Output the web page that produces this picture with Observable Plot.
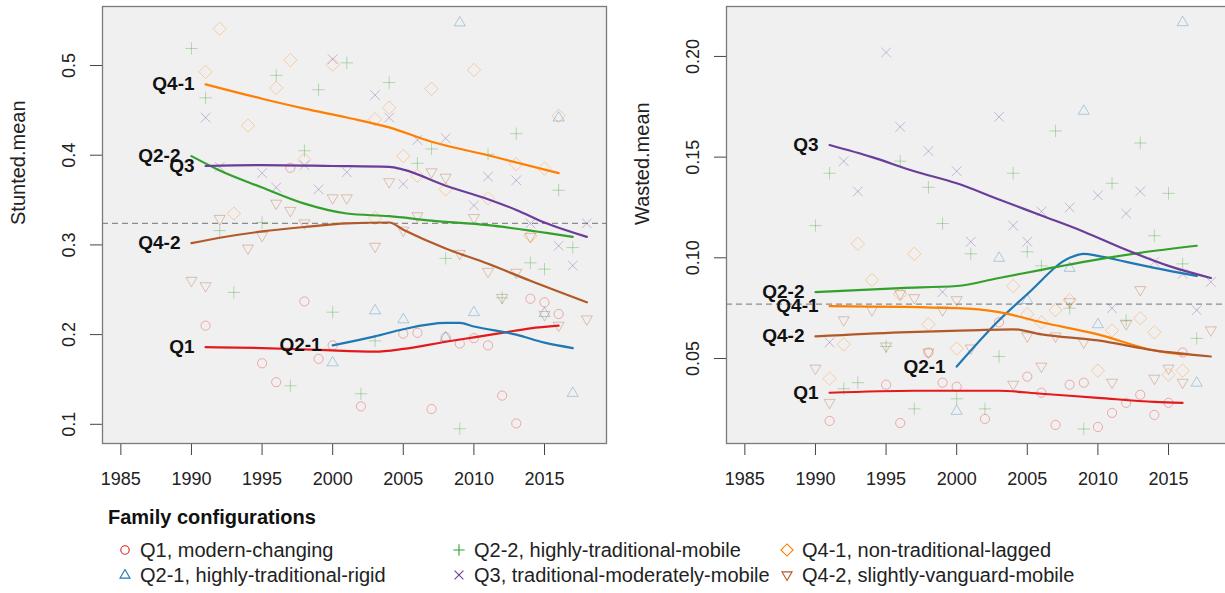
<!DOCTYPE html>
<html><head><meta charset="utf-8">
<script src="https://cdn.jsdelivr.net/npm/d3@7"></script>
<script src="https://cdn.jsdelivr.net/npm/@observablehq/plot@0.6"></script>
<style>
html,body{margin:0;padding:0;background:#fff;overflow:hidden;}
#root{position:relative;width:1225px;height:593px;overflow:hidden;font-family:"Liberation Sans",Arial,sans-serif;}
#root svg{max-width:none !important;}
#left{position:absolute;left:0;top:0;width:612px;}
#right{position:absolute;left:620px;top:0;width:620px;}
#legend{position:absolute;left:0;top:495px;width:1225px;}
</style></head>
<body><div id="root"><div id="left"></div><div id="right"></div><div id="legend"></div></div>
<script>
// ---------- categories ----------
const groups = ["Q1", "Q2-1", "Q2-2", "Q3", "Q4-1", "Q4-2"];
const groupColors = ["#e31a1c", "#1f78b4", "#33a02c", "#6a3d9a", "#ff7f00", "#b15928"];
const legendLabels = ["Q1, modern-changing", "Q2-1, highly-traditional-rigid", "Q2-2, highly-traditional-mobile",
  "Q3, traditional-moderately-mobile", "Q4-1, non-traditional-lagged", "Q4-2, slightly-vanguard-mobile"];
const legendTitle = "Family configurations";
const xTicks = [1985, 1990, 1995, 2000, 2005, 2010, 2015];
const stuntedTicks = [0.1, 0.2, 0.3, 0.4, 0.5];
const wastedTicks = [0.05, 0.10, 0.15, 0.20];
const stuntedMean = 0.324;
const wastedMean = 0.077;

// ---------- Stunted: observed points [year, value] ----------
const stuntedQ1 = [[1991,0.210],[1995,0.168],[1996,0.147],[1997,0.386],[1998,0.237],[1999,0.173],[2000,0.188],[2002,0.120],[2005,0.201],[2006,0.202],[2007,0.117],[2008,0.197],[2009,0.190],[2010,0.196],[2011,0.188],[2012,0.132],[2013,0.101],[2014,0.240],[2015,0.236],[2016,0.223]];
const stuntedQ21 = [[2000,0.169],[2003,0.227],[2005,0.217],[2008,0.197],[2009,0.548],[2010,0.225],[2015,0.224],[2016,0.442],[2017,0.135]];
const stuntedQ22 = [[1990,0.519],[1991,0.464],[1992,0.316],[1993,0.247],[1995,0.325],[1996,0.489],[1997,0.143],[1998,0.405],[1999,0.473],[2000,0.225],[2001,0.503],[2002,0.134],[2003,0.193],[2004,0.481],[2006,0.391],[2007,0.407],[2008,0.285],[2009,0.095],[2011,0.401],[2012,0.241],[2013,0.424],[2014,0.280],[2015,0.273],[2016,0.361],[2017,0.297]];
const stuntedQ3 = [[1991,0.442],[1992,0.387],[1995,0.380],[1996,0.364],[1998,0.389],[1999,0.362],[2000,0.507],[2001,0.381],[2003,0.467],[2004,0.442],[2005,0.368],[2006,0.417],[2008,0.419],[2010,0.344],[2011,0.376],[2013,0.372],[2014,0.324],[2016,0.299],[2017,0.277],[2018,0.324]];
const stuntedQ41 = [[1991,0.493],[1992,0.541],[1993,0.335],[1994,0.433],[1996,0.475],[1997,0.506],[1998,0.395],[2000,0.501],[2003,0.440],[2003,0.330],[2004,0.453],[2005,0.399],[2006,0.377],[2007,0.474],[2008,0.362],[2010,0.495],[2011,0.352],[2013,0.390],[2014,0.310],[2015,0.385],[2016,0.444]];
const stuntedQ42 = [[1990,0.260],[1991,0.254],[1992,0.329],[1994,0.296],[1995,0.310],[1996,0.346],[1997,0.338],[1998,0.324],[2000,0.352],[2001,0.352],[2003,0.298],[2004,0.370],[2005,0.316],[2006,0.332],[2007,0.381],[2008,0.375],[2009,0.290],[2010,0.330],[2011,0.270],[2012,0.241],[2013,0.269],[2014,0.309],[2015,0.222],[2016,0.210],[2018,0.217]];

// ---------- Stunted: smoothed trends ----------
const stuntedFitQ1 = [[1991,0.186],[1995,0.185],[1999,0.183],[2003,0.181],[2005,0.184],[2008,0.192],[2010,0.197],[2012,0.202],[2014,0.207],[2016,0.210]];
const stuntedFitQ21 = [[2000,0.188],[2003,0.198],[2005,0.206],[2008,0.213],[2009,0.213],[2010,0.209],[2013,0.200],[2015,0.191],[2017,0.185]];
const stuntedFitQ22 = [[1990,0.399],[1992,0.383],[1995,0.364],[1998,0.346],[2001,0.335],[2004,0.332],[2007,0.327],[2011,0.322],[2014,0.316],[2017,0.309]];
const stuntedFitQ3 = [[1991,0.388],[1995,0.389],[2000,0.388],[2004,0.387],[2005,0.384],[2008,0.366],[2011,0.351],[2013,0.339],[2015,0.325],[2018,0.309]];
const stuntedFitQ41 = [[1991,0.479],[1995,0.463],[1998,0.452],[2001,0.442],[2004,0.431],[2007,0.415],[2011,0.400],[2016,0.380]];
const stuntedFitQ42 = [[1990,0.302],[1992,0.308],[1995,0.315],[1998,0.320],[2001,0.324],[2004,0.325],[2005,0.317],[2008,0.296],[2011,0.279],[2014,0.260],[2018,0.236]];

// ---------- Wasted: observed points ----------
const wastedQ1 = [[1991,0.019],[1995,0.037],[1996,0.018],[1998,0.053],[1999,0.038],[2000,0.036],[2002,0.020],[2003,0.068],[2005,0.041],[2006,0.033],[2007,0.017],[2008,0.037],[2009,0.038],[2010,0.016],[2011,0.023],[2012,0.028],[2013,0.032],[2014,0.022],[2015,0.028],[2016,0.053]];
const wastedQ21 = [[2000,0.024],[2003,0.100],[2005,0.079],[2008,0.095],[2009,0.173],[2010,0.067],[2016,0.217],[2017,0.038]];
const wastedQ22 = [[1990,0.116],[1991,0.142],[1992,0.035],[1993,0.038],[1995,0.056],[1996,0.148],[1997,0.025],[1998,0.135],[1999,0.117],[2000,0.030],[2001,0.102],[2002,0.025],[2003,0.051],[2004,0.142],[2005,0.103],[2006,0.096],[2007,0.163],[2008,0.075],[2009,0.015],[2011,0.137],[2012,0.069],[2013,0.157],[2014,0.111],[2015,0.132],[2016,0.097],[2017,0.060]];
const wastedQ3 = [[1991,0.058],[1992,0.148],[1993,0.133],[1995,0.202],[1996,0.165],[1998,0.153],[1999,0.083],[2000,0.143],[2001,0.108],[2003,0.170],[2004,0.116],[2005,0.108],[2006,0.123],[2008,0.125],[2010,0.131],[2011,0.075],[2012,0.122],[2013,0.133],[2014,0.098],[2016,0.092],[2017,0.074],[2018,0.088]];
const wastedQ41 = [[1991,0.040],[1992,0.057],[1993,0.107],[1994,0.089],[1996,0.082],[1997,0.102],[1998,0.067],[2000,0.055],[2004,0.086],[2005,0.072],[2006,0.068],[2007,0.074],[2008,0.079],[2010,0.044],[2011,0.064],[2013,0.070],[2014,0.063],[2015,0.042],[2016,0.044]];
const wastedQ42 = [[1990,0.045],[1991,0.028],[1992,0.069],[1994,0.074],[1995,0.056],[1996,0.082],[1997,0.080],[1998,0.053],[1999,0.074],[2000,0.079],[2001,0.055],[2004,0.037],[2005,0.061],[2006,0.046],[2007,0.061],[2008,0.078],[2009,0.058],[2011,0.038],[2012,0.067],[2013,0.084],[2014,0.040],[2015,0.045],[2016,0.038],[2018,0.064]];

// ---------- Wasted: smoothed trends ----------
const wastedFitQ1 = [[1991,0.033],[1997,0.034],[2003,0.034],[2006,0.0325],[2010,0.0305],[2014,0.0285],[2016,0.028]];
const wastedFitQ21 = [[2000,0.046],[2003,0.069],[2005,0.082],[2008,0.100],[2009,0.102],[2010,0.101],[2012,0.098],[2014,0.095],[2017,0.091]];
const wastedFitQ22 = [[1990,0.083],[1996,0.085],[2000,0.086],[2003,0.090],[2006,0.094],[2009,0.098],[2013,0.1025],[2017,0.106]];
const wastedFitQ3 = [[1991,0.156],[1994,0.150],[1997,0.143],[2000,0.137],[2003,0.129],[2006,0.121],[2009,0.113],[2012,0.104],[2015,0.096],[2018,0.090]];
const wastedFitQ41 = [[1991,0.076],[2000,0.075],[2003,0.073],[2006,0.068],[2010,0.062],[2014,0.054],[2016,0.052]];
const wastedFitQ42 = [[1990,0.061],[1996,0.063],[2001,0.064],[2004,0.0645],[2006,0.062],[2010,0.059],[2014,0.054],[2018,0.051]];

// ---------- build tables ----------
function toRows(lists) {
  const out = [];
  lists.forEach((list, i) => list.forEach(([year, value]) => out.push({group: groups[i], year, value})));
  return out;
}
const stuntedPts = toRows([stuntedQ1, stuntedQ21, stuntedQ22, stuntedQ3, stuntedQ41, stuntedQ42]);
const stuntedFits = [stuntedFitQ1, stuntedFitQ21, stuntedFitQ22, stuntedFitQ3, stuntedFitQ41, stuntedFitQ42];
const wastedPts = toRows([wastedQ1, wastedQ21, wastedQ22, wastedQ3, wastedQ41, wastedQ42]);
const wastedFits = [wastedFitQ1, wastedFitQ21, wastedFitQ22, wastedFitQ3, wastedFitQ41, wastedFitQ42];

// ---------- symbols (R pch 1,2,3,4,5,6) ----------
const symCircle = {draw(c, s) { const r = Math.sqrt(s / Math.PI); c.moveTo(r, 0); c.arc(0, 0, r, 0, 2 * Math.PI); }};
const symTriUp = {draw(c, s) { const r = Math.sqrt(s / Math.PI); c.moveTo(0, -1.3 * r); c.lineTo(1.2 * r, 0.75 * r); c.lineTo(-1.2 * r, 0.75 * r); c.closePath(); }};
const symPlus = {draw(c, s) { const r = Math.sqrt(s / Math.PI) * 1.35; c.moveTo(-r, 0); c.lineTo(r, 0); c.moveTo(0, -r); c.lineTo(0, r); }};
const symTimes = {draw(c, s) { const r = Math.sqrt(s / Math.PI) * 1.05; c.moveTo(-r, -r); c.lineTo(r, r); c.moveTo(-r, r); c.lineTo(r, -r); }};
const symDiamond = {draw(c, s) { const r = Math.sqrt(s / Math.PI) * 1.45; c.moveTo(0, -r); c.lineTo(r, 0); c.lineTo(0, r); c.lineTo(-r, 0); c.closePath(); }};
const symTriDown = {draw(c, s) { const r = Math.sqrt(s / Math.PI); c.moveTo(0, 1.3 * r); c.lineTo(1.2 * r, -0.75 * r); c.lineTo(-1.2 * r, -0.75 * r); c.closePath(); }};
const groupSymbols = [symCircle, symTriUp, symPlus, symTimes, symDiamond, symTriDown];

const FONT = '"Liberation Sans", Arial, sans-serif';

function panel({pts, fits, yDomain, yTicks, yFmt, mean, ylabel, width, marginLeft, marginRight}) {
  const lineRows = toRows(fits);
  const labelRows = fits.map((f, i) => ({group: groups[i], year: f[0][0], value: f[0][1]}));
  return Plot.plot({
    width, height: 495,
    marginLeft, marginRight, marginTop: 6, marginBottom: 52,
    x: {domain: [1983.70, 2019.39]},
    y: {domain: yDomain},
    color: {domain: groups, range: groupColors},
    symbol: {domain: groups, range: groupSymbols},
    style: {fontFamily: FONT, fontSize: "18px", background: "transparent", color: "#222", overflow: "visible", maxWidth: "none"},
    marks: [
      Plot.frame({fill: "#f0f0f0", stroke: null}),
      Plot.ruleY([mean], {stroke: "#8c8c8c", strokeDasharray: "6,4", strokeWidth: 1.4}),
      Plot.dot(pts, {x: "year", y: "value", symbol: "group", stroke: "group", strokeOpacity: 0.33, strokeWidth: 1, r: 4.6}),
      Plot.line(lineRows, {x: "year", y: "value", z: "group", stroke: "group", strokeWidth: 2.2, curve: "monotone-x"}),
      Plot.text(labelRows, {x: "year", y: "value", text: "group", textAnchor: "end", dx: -11, fontWeight: "bold", fontSize: 19, fill: "#111"}),
      Plot.axisX({ticks: xTicks, tickSize: 12, tickPadding: 17, tickFormat: d => String(d), label: null, stroke: "#444"}),
      Plot.axisY({ticks: yTicks, tickSize: 12, tickRotate: -90, tickPadding: 16, tickFormat: yFmt, label: null, stroke: "#444"}),
      Plot.frame({stroke: "#7a7a7a", strokeWidth: 1.3}),
      Plot.text([ylabel], {text: d => d, frameAnchor: "left", dx: -84, rotate: -90, fontSize: 20, fill: "#222"})
    ]
  });
}

document.getElementById("left").append(panel({
  pts: stuntedPts, fits: stuntedFits, yDomain: [0.0786, 0.5658], yTicks: stuntedTicks,
  yFmt: d3.format(".1f"), mean: stuntedMean, ylabel: "Stunted.mean", width: 612, marginLeft: 102, marginRight: 6
}));
document.getElementById("right").append(panel({
  pts: wastedPts, fits: wastedFits, yDomain: [0.0078, 0.2248], yTicks: wastedTicks,
  yFmt: d3.format(".2f"), mean: wastedMean, ylabel: "Wasted.mean", width: 620, marginLeft: 106, marginRight: 10
}));

// ---------- legend (below the plots) ----------
const lg = d3.select("#legend").append("svg").attr("width", 1225).attr("height", 98)
  .style("font-family", FONT);
lg.append("text").attr("x", 108).attr("y", 29).attr("font-weight", "bold").attr("font-size", 20)
  .attr("fill", "#111").text(legendTitle);
const colX = [125, 459, 787];
const rowY = [55, 80];
groups.forEach((g, i) => {
  const col = Math.floor(i / 2), row = i % 2;
  const item = lg.append("g").attr("transform", `translate(${colX[col]},${rowY[row]})`);
  item.append("path").attr("d", d3.symbol().type(groupSymbols[i]).size(Math.PI * 4.2 * 4.2)())
    .attr("fill", "none").attr("stroke", groupColors[i]).attr("stroke-width", 1.1);
  item.append("text").attr("x", 15).attr("y", 7).attr("font-size", 20).attr("fill", "#222").text(legendLabels[i]);
});
</script>
</body></html>
